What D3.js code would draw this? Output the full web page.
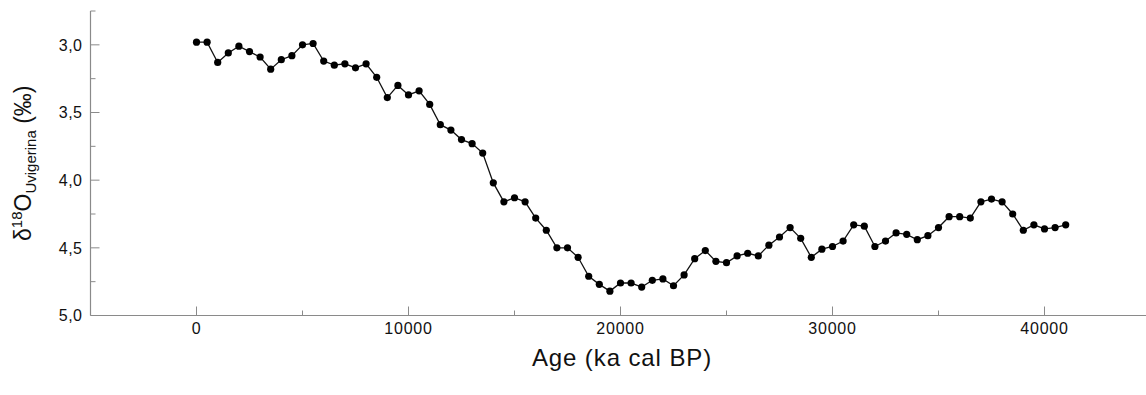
<!DOCTYPE html>
<html>
<head>
<meta charset="utf-8">
<script src="https://cdn.jsdelivr.net/npm/d3@7"></script>
<style>
  html, body { margin: 0; padding: 0; background: #fff; }
  svg { display: block; font-family: "Liberation Sans", Arial, sans-serif; }
</style>
</head>
<body>
<svg id="chart" width="1146" height="395"></svg>
<script>
// Age of each sample (years cal BP)
const ages = d3.range(0, 41001, 500);

// Benthic foraminifera (Uvigerina) oxygen isotope values, ‰
const d18O = [
  2.98, 2.98, 3.13, 3.06, 3.01, 3.05, 3.09, 3.18, 3.11, 3.08,
  3.00, 2.99, 3.12, 3.15, 3.14, 3.17, 3.14, 3.24, 3.39, 3.30,
  3.37, 3.34, 3.44, 3.59, 3.63, 3.70, 3.73, 3.80, 4.02, 4.16,
  4.13, 4.16, 4.28, 4.37, 4.50, 4.50, 4.57, 4.71, 4.77, 4.82,
  4.76, 4.76, 4.79, 4.74, 4.73, 4.78, 4.70, 4.58, 4.52, 4.60,
  4.61, 4.56, 4.54, 4.56, 4.48, 4.42, 4.35, 4.43, 4.57, 4.51,
  4.49, 4.45, 4.33, 4.34, 4.49, 4.45, 4.39, 4.40, 4.44, 4.41,
  4.35, 4.27, 4.27, 4.28, 4.16, 4.14, 4.16, 4.25, 4.37, 4.33,
  4.36, 4.35, 4.33
];

// Axis ticks
const xMajorTicks = [0, 10000, 20000, 30000, 40000];
const xMinorTicks = [5000, 15000, 25000, 35000];
const yMajorTicks = [3.0, 3.5, 4.0, 4.5, 5.0];
const yMinorTicks = [2.75, 3.25, 3.75, 4.25, 4.75];

const data = ages.map((a, i) => ({ age: a, v: d18O[i] }));

const svg = d3.select("#chart");
const axisColor = "#8a8a8a";

const x = d3.scaleLinear().domain([-5000, 45000]).range([90.5, 1150.5]);
const y = d3.scaleLinear().domain([2.75, 5.0]).range([11, 315.5]);

const fmtY = v => d3.format(".1f")(v).replace(".", ",");

// X axis: ticks point up into the plot
const xAxis = svg.append("g").attr("transform", `translate(0,${y(5.0)})`);
xAxis.append("line")
  .attr("x1", x(-5000)).attr("x2", 1146)
  .attr("stroke", axisColor).attr("stroke-width", 1.2);
xAxis.selectAll(".xmaj").data(xMajorTicks).join("line")
  .attr("x1", d => x(d)).attr("x2", d => x(d))
  .attr("y1", 0).attr("y2", -9)
  .attr("stroke", axisColor).attr("stroke-width", 1);
xAxis.selectAll(".xmin").data(xMinorTicks).join("line")
  .attr("x1", d => x(d)).attr("x2", d => x(d))
  .attr("y1", 0).attr("y2", -5)
  .attr("stroke", axisColor).attr("stroke-width", 1);
xAxis.selectAll("text").data(xMajorTicks).join("text")
  .attr("x", d => x(d)).attr("y", 18)
  .attr("text-anchor", "middle")
  .attr("font-size", 16)
  .attr("letter-spacing", 0.8)
  .attr("fill", "#111")
  .text(d => d);

// Y axis: ticks point right into the plot
const yAxis = svg.append("g").attr("transform", `translate(${x(-5000)},0)`);
yAxis.append("line")
  .attr("y1", y(2.75)).attr("y2", y(5.0))
  .attr("stroke", axisColor).attr("stroke-width", 1.2);
yAxis.selectAll(".ymaj").data(yMajorTicks).join("line")
  .attr("y1", d => y(d)).attr("y2", d => y(d))
  .attr("x1", 0).attr("x2", 9)
  .attr("stroke", axisColor).attr("stroke-width", 1);
yAxis.selectAll(".ymin").data(yMinorTicks).join("line")
  .attr("y1", d => y(d)).attr("y2", d => y(d))
  .attr("x1", 0).attr("x2", 5)
  .attr("stroke", axisColor).attr("stroke-width", 1);
yAxis.selectAll("text").data(yMajorTicks).join("text")
  .attr("x", -8).attr("y", d => y(d))
  .attr("dy", "0.36em")
  .attr("text-anchor", "end")
  .attr("font-size", 16)
  .attr("letter-spacing", 0.5)
  .attr("fill", "#111")
  .text(fmtY);

// Isotope curve
const line = d3.line().x(d => x(d.age)).y(d => y(d.v));
svg.append("path")
  .datum(data)
  .attr("d", line)
  .attr("fill", "none")
  .attr("stroke", "#111")
  .attr("stroke-width", 1.3);

svg.append("g").selectAll("circle").data(data).join("circle")
  .attr("cx", d => x(d.age)).attr("cy", d => y(d.v))
  .attr("r", 3.6)
  .attr("fill", "#000");

// Axis titles
svg.append("text")
  .attr("x", 622).attr("y", 366)
  .attr("text-anchor", "middle")
  .attr("font-size", 24)
  .attr("letter-spacing", 0.9)
  .attr("fill", "#111")
  .text("Age (ka cal BP)");

const yTitle = svg.append("text")
  .attr("transform", `translate(31,${(y(2.75) + y(5.0)) / 2}) rotate(-90)`)
  .attr("text-anchor", "middle")
  .attr("font-size", 23)
  .attr("fill", "#111");
yTitle.append("tspan").text("δ");
yTitle.append("tspan").attr("font-size", 15).attr("dy", -9).text("18");
yTitle.append("tspan").attr("dy", 9).text("O");
yTitle.append("tspan").attr("font-size", 15).attr("dy", 5).text("Uvigerina");
yTitle.append("tspan").attr("dy", -5).text(" (‰)");
</script>
</body>
</html>
